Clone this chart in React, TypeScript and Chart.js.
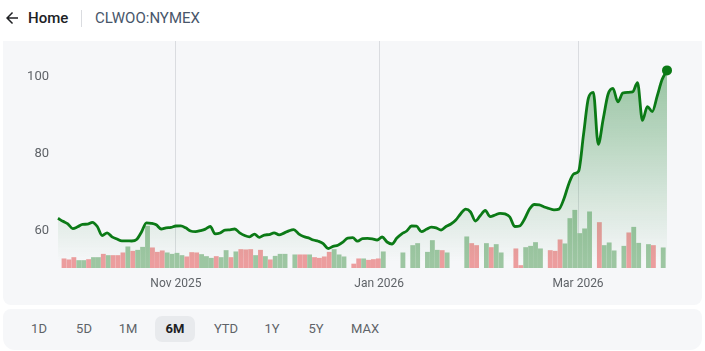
import React, { useEffect, useRef } from "react";
import { Chart, registerables } from "chart.js";

Chart.register(...registerables);

// Closing prices, one per trading day (USD)
const prices: number[] = [
  62.78, 62.0, 61.35, 60.1, 60.57, 61.22, 61.25, 61.74, 60.65, 58.31,
  58.99, 57.97, 57.4, 56.9, 56.9, 56.88, 57.27, 59.22, 61.6, 61.48,
  61.09, 60.0, 60.29, 60.42, 60.78, 60.8, 60.31, 59.48, 59.32, 59.58,
  59.97, 60.65, 58.73, 58.96, 59.71, 59.79, 60.0, 58.99, 58.31, 57.97,
  58.68, 57.82, 58.44, 58.55, 59.01, 58.49, 58.94, 59.53, 59.84, 58.75,
  58.05, 57.69, 57.14, 56.83, 56.23, 54.94, 55.48, 55.77, 56.57, 57.66,
  57.74, 56.83, 57.5, 57.56, 57.45, 57.14, 57.92, 56.62, 56.1, 57.66,
  58.75, 59.48, 60.78, 60.73, 59.3, 59.92, 60.49, 60.29, 59.74, 60.65,
  61.3, 62.34, 63.97, 65.14, 64.42, 62.08, 63.5, 64.81, 63.22, 63.64,
  64.08, 63.92, 63.12, 60.65, 60.78, 62.6, 65.19, 66.36, 66.26, 65.71,
  65.32, 64.99, 65.17, 67.79, 71.7, 74.3, 75.0, 84.5, 94.0, 95.5,
  82.0, 88.5, 95.0, 96.5, 93.0, 95.3, 95.5, 95.6, 98.0, 88.2,
  91.8, 90.5, 94.5, 98.8, 101.2,
];

// Daily volume (thousand contracts); null = no volume reported
const volumes: (number | null)[] = [
  92, 82, 105, 75, 75, 85, 105, 105, 138, 125,
  125, 125, 152, 212, 168, 178, 208, 418, 202, 158,
  172, 152, 138, 148, 125, 112, 155, 152, 135, 115,
  98, 115, 105, 175, 105, 162, 185, 182, 185, 125,
  178, 115, 82, 118, 138, 138, null, 132, 132, 132,
  132, 105, 98, 112, 158, 185, 132, 112, null, 40,
  92, 92, 78, 85, 92, 162, null, null, null, 152,
  null, 225, 245, null, 158, 275, 178, 175, 152, null,
  null, null, 312, 245, 225, null, 245, 205, 235, 152,
  null, null, 192, 25, 205, 218, 255, 192, null, 175,
  168, 282, 242, 495, 578, 345, 392, 562, null, 455,
  225, 252, 172, null, 218, 352, 408, 248, null, 235,
  225, null, 202,
];

// true = up day (green), false = down day (red)
const volumeUp: boolean[] = [
  false, false, false, true, true, false, true, true, false, true,
  false, false, false, true, false, true, true, true, false, false,
  false, true, true, true, true, false, false, false, true, true,
  true, false, true, true, false, true, false, false, false, true,
  false, true, false, true, true, true, true, true, false, false,
  true, false, false, false, false, true, true, true, true, false,
  false, true, false, false, false, true, true, true, true, true,
  true, true, true, true, true, true, true, false, true, true,
  true, true, true, false, false, true, true, false, true, true,
  true, true, false, false, true, true, true, true, true, false,
  false, false, true, true, true, true, true, true, true, false,
  true, true, true, true, true, false, true, true, true, true,
  false, true, true,
];

// Month tick labels at their trading-day index
const monthTickIndex: number[] = [24, 65.4, 105.9];
const monthTickLabels: string[] = ["Nov 2025", "Jan 2026", "Mar 2026"];

const yTicks: number[] = [60, 80, 100];
const ranges: string[] = ["1D", "5D", "1M", "6M", "YTD", "1Y", "5Y", "MAX"];
const activeRange = "6M";

const LINE = "#0b7a16";
const FONT = "Roboto, 'Noto Sans', sans-serif";

export default function App() {
  const canvasRef = useRef<HTMLCanvasElement | null>(null);

  useEffect(() => {
    const canvas = canvasRef.current;
    if (!canvas) return;
    const last = prices.length - 1;
    const chart = new Chart(canvas, {
      data: {
        datasets: [
          {
            type: "line",
            data: prices.map((p, i) => ({ x: i, y: p })),
            borderColor: LINE,
            borderWidth: 2.8,
            cubicInterpolationMode: "monotone",
            pointRadius: (ctx: any) => (ctx.dataIndex === last ? 5 : 0),
            pointBackgroundColor: LINE,
            pointBorderWidth: 0,
            fill: "start",
            backgroundColor: (ctx: any) => {
              const { chart } = ctx;
              const area = chart.chartArea;
              if (!area) return "rgba(0,0,0,0)";
              const g = chart.ctx.createLinearGradient(0, area.top + 28, 0, area.bottom - 6);
              g.addColorStop(0, "rgba(20,125,40,0.42)");
              g.addColorStop(1, "rgba(20,125,40,0)");
              return g;
            },
            xAxisID: "x",
            yAxisID: "y",
            order: 1,
            clip: false,
          } as any,
          {
            type: "bar",
            data: volumes.map((v, i) => ({ x: i, y: v })),
            backgroundColor: volumeUp.map((u) => (u ? "#9dc6a2" : "#ec9d9e")),
            borderWidth: 0,
            barThickness: 4.2,
            xAxisID: "xv",
            yAxisID: "yv",
            order: 2,
          } as any,
        ],
      },
      options: {
        animation: false,
        responsive: false,
        layout: { autoPadding: false, padding: { left: 0, right: 35, top: 0, bottom: 0 } },
        plugins: { legend: { display: false }, tooltip: { enabled: false } },
        scales: {
          x: {
            type: "linear",
            min: 0,
            max: prices.length - 1,
            offset: false,
            border: { display: false },
            grid: { color: "#dadce0", lineWidth: 1, drawTicks: false, offset: false },
            afterBuildTicks: (scale: any) => {
              scale.ticks = monthTickIndex.map((v) => ({ value: v }));
            },
            ticks: {
              padding: 9,
              color: "#5f6368",
              font: { family: FONT, size: 12 },
              maxRotation: 0,
              autoSkip: false,
              callback: (v: any) => {
                const k = monthTickIndex.indexOf(Number(v));
                return k >= 0 ? monthTickLabels[k] : "";
              },
            },
            afterFit: (scale: any) => {
              scale.height = 37;
              scale.paddingLeft = 0;
              scale.paddingRight = 0;
            },
          },
          xv: {
            type: "linear",
            display: false,
            offset: false,
            grid: { offset: false },
            bounds: "data",
            min: -0.8,
            max: 123.2,
          },
          y: {
            type: "linear",
            position: "left",
            min: 49.87,
            max: 108.83,
            border: { display: false },
            grid: { display: false, drawTicks: false },
            afterBuildTicks: (scale: any) => {
              scale.ticks = yTicks.map((v) => ({ value: v }));
            },
            ticks: {
              padding: 9,
              labelOffset: 2,
              color: "#5f6368",
              font: { family: FONT, size: 13 },
            },
            afterFit: (scale: any) => {
              scale.width = 55;
              scale.paddingTop = 0;
              scale.paddingBottom = 0;
            },
          },
          yv: {
            type: "linear",
            display: false,
            min: 0,
            max: 2270,
          },
        },
      } as any,
    });
    return () => chart.destroy();
  }, []);

  return (
    <div
      style={{
        position: "fixed",
        left: 0,
        top: 0,
        width: 705,
        height: 351,
        background: "#ffffff",
        fontFamily: FONT,
        overflow: "hidden",
      }}
    >
      {/* header */}
      <svg
        width="18"
        height="18"
        viewBox="0 0 24 24"
        style={{ position: "absolute", left: 3, top: 9 }}
      >
        <path d="M20 11H7.83l5.59-5.59L12 4l-8 8 8 8 1.41-1.41L7.83 13H20v-2z" fill="#202124" />
      </svg>
      <div
        style={{
          position: "absolute",
          left: 28,
          top: 8,
          fontSize: 15,
          fontWeight: 500,
          color: "#202124",
          lineHeight: "20px",
        }}
      >
        Home
      </div>
      <div
        style={{
          position: "absolute",
          left: 81,
          top: 10,
          width: 1,
          height: 17,
          background: "#dadce0",
        }}
      />
      <div
        style={{
          position: "absolute",
          left: 95,
          top: 8,
          fontSize: 15,
          color: "#48566a",
          lineHeight: "20px",
        }}
      >
        CLWOO:NYMEX
      </div>

      {/* chart panel */}
      <div
        style={{
          position: "absolute",
          left: 3,
          top: 41,
          width: 699,
          height: 264,
          background: "#f6f7f9",
          borderRadius: "0 0 8px 8px",
        }}
      >
        <canvas ref={canvasRef} width={699} height={264} style={{ display: "block", width: 699, height: 264 }} />
      </div>

      {/* range selector */}
      <div
        style={{
          position: "absolute",
          left: 3,
          top: 309,
          width: 699,
          height: 41,
          background: "#f6f7f9",
          borderRadius: "8px 8px 12px 12px",
        }}
      >
        {ranges.map((r, i) => {
          const centers = [36, 81, 125, 172, 223, 269, 313, 362];
          const active = r === activeRange;
          return (
            <div
              key={r}
              style={{
                position: "absolute",
                left: centers[i] - 20,
                top: 7,
                width: 40,
                height: 26,
                borderRadius: 7,
                background: active ? "#e8eaed" : "transparent",
                color: active ? "#202124" : "#5f6368",
                fontWeight: active ? 700 : 400,
                fontSize: 13,
                lineHeight: "26px",
                textAlign: "center",
              }}
            >
              {r}
            </div>
          );
        })}
      </div>
    </div>
  );
}
